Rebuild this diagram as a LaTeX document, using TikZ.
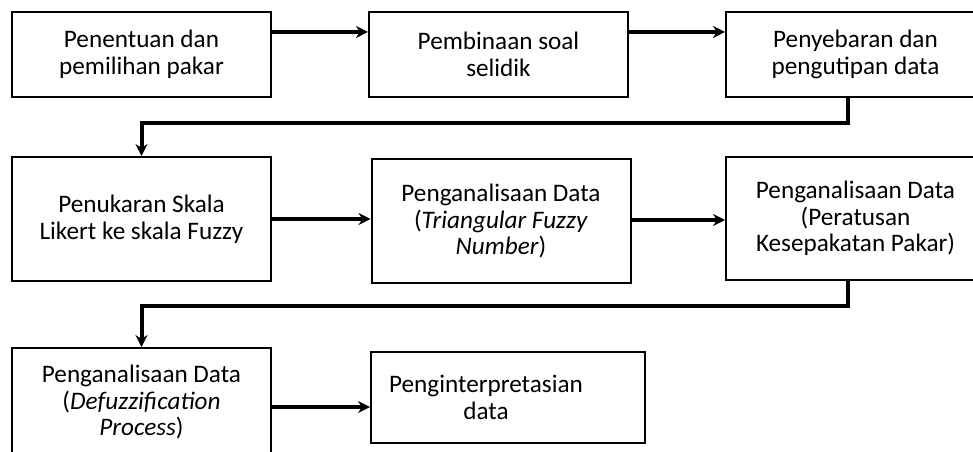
\documentclass[tikz,border=0pt]{standalone}
\usepackage{fontspec}
\setmainfont{Carlito}
\usetikzlibrary{arrows.meta}
\newcommand\myunit{0.75pt}

\begin{document}
\begin{tikzpicture}[x=\myunit, y=-\myunit,
		box/.style={draw, line width=1.5pt, align=center, inner sep=0pt,
			minimum width={259*\myunit}, font=\fontsize{18.9}{20}\selectfont},
		link/.style={line width=2.4pt, -{Stealth[length=9pt, width=9pt]}},
		turn/.style={line width=3pt, -{Stealth[length=9pt, width=9pt]}}]
			\useasboundingbox (0,0) rectangle (973,451);
			\clip (0,0) rectangle (973,451);
			\node[box, minimum height={85*\myunit}] (pakar) at (141.5,54.5) {Penentuan dan\\pemilihan pakar};
			\node[box, minimum height={85*\myunit}] (soal) at (498.5,54.5) {Pembinaan soal\\selidik};
			\node[box, minimum height={85*\myunit}] (sebar) at (855.5,54.5) {Penyebaran dan\\pengutipan data};
			\node[box, minimum height={124*\myunit}] (skala) at (141.5,219) {Penukaran Skala\\Likert ke skala Fuzzy};
			\node[box, minimum height={124*\myunit}] (tfn) at (501,221) {Penganalisaan Data\\(\textit{Triangular Fuzzy}\\\textit{Number})};
			\node[box, minimum height={123*\myunit}] (sepakat) at (855.5,218.5) {Penganalisaan Data\\(Peratusan\\Kesepakatan Pakar)};
			\node[box, minimum height={108*\myunit}] (defuzz) at (141.5,402) {Penganalisaan Data\\(\textit{Defuzzification}\\\textit{Process})};
			\node[box, minimum width={274*\myunit}, minimum height={91*\myunit}] (tafsir) at (508,397.5) {Penginterpretasian\hspace*{33pt}\\data\hspace*{33pt}};
			\draw[link] ([yshift=16.9pt]pakar.east) -- ([yshift=16.9pt]soal.west);
			\draw[link] ([yshift=16.9pt]soal.east) -- ([yshift=16.9pt]sebar.west);
			\draw[turn] ([xshift=-5.6pt]sebar.south) -- ++(0,25) -| (skala.north);
			\draw[link] (skala.east) -- (skala.east -| tfn.west);
			\draw[link] ([yshift=0.75pt]tfn.east) -- ([yshift=0.75pt]tfn.east -| sepakat.west);
			\draw[turn] ([xshift=-5.6pt]sepakat.south) -- ++(0,25) -| (defuzz.north);
			\draw[link] ([yshift=-3.75pt]defuzz.east) -- ([yshift=-3.75pt]defuzz.east -| tafsir.west);
		\end{tikzpicture}
\end{document}
